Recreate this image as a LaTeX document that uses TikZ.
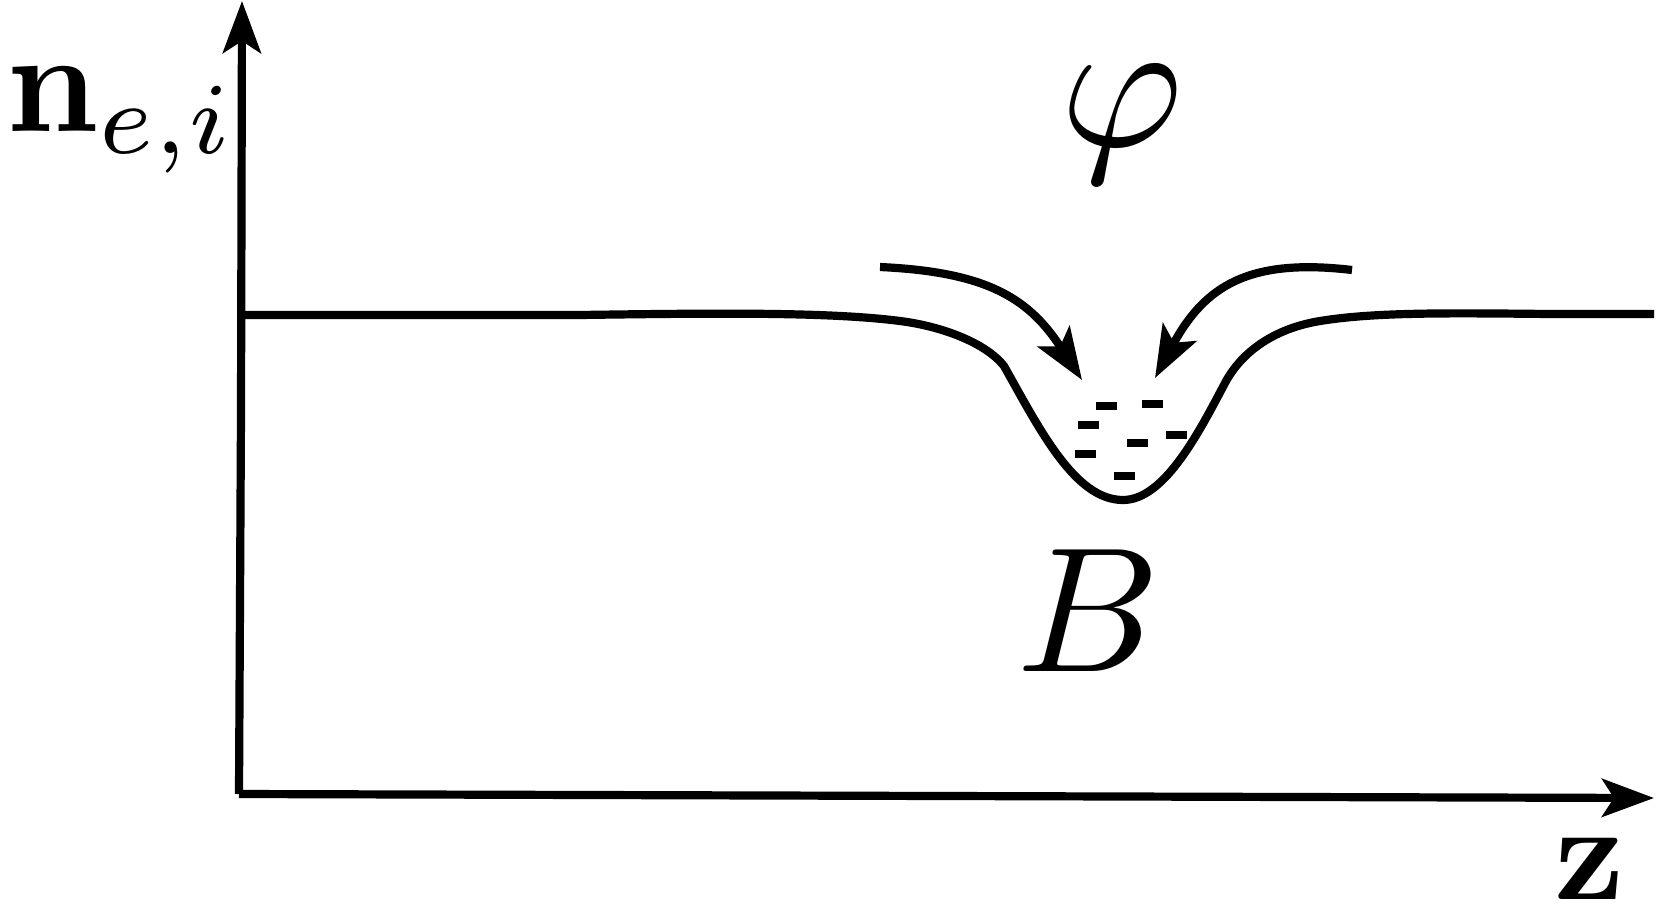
\documentclass[tikz,border=0pt]{standalone}
\usetikzlibrary{arrows.meta}
\begin{document}
\begin{tikzpicture}[x=0.5pt,y=-0.5pt,
  thick line/.style={line width=4.1pt, line cap=butt, line join=round},
  bigtip/.style={-{Stealth[length=26pt,width=19pt,inset=6pt]}},
  dashmark/.style={fill=black},
  lbl/.style={inner sep=0pt, outer sep=0pt}]
\useasboundingbox (0,0) rectangle (1657,904);
% axes
\coordinate (O) at (239,794);
\coordinate (Ykink) at (241,412);
\coordinate (Ytop) at (242,1);
\coordinate (Xend) at (1654,798);
\draw[thick line, bigtip] (O) -- (Ykink) -- (Ytop);
\draw[thick line, bigtip] (O) -- (Xend);
% density profile
\coordinate (P0) at (243,315);
\coordinate (P1) at (580,315);
\coordinate (Sh) at (900,321);
\coordinate (Kl) at (1004,366);
\coordinate (Bot) at (1123,500);
\coordinate (Kr) at (1225,383);
\coordinate (Sr) at (1320,321);
\coordinate (P2) at (1550,314);
\coordinate (PE) at (1654,314);
\draw[thick line] (P0) -- (P1)
  .. controls (720,313) and (830,312) .. (Sh)
  .. controls (940,326) and (985,342) .. (Kl)
  .. controls (1040,430) and (1075,500) .. (Bot)
  .. controls (1165,500) and (1200,430) .. (Kr)
  .. controls (1237,360) and (1265,330) .. (Sr)
  .. controls (1375,312) and (1450,313) .. (P2) -- (PE);
% incoming arrows
\coordinate (La) at (880,267);
\coordinate (Lb) at (1082,380);
\coordinate (Ra) at (1352,270);
\coordinate (Rb) at (1155,378);
\draw[thick line, bigtip] (La) .. controls (990,272) and (1030,300) .. (Lb);
\draw[thick line, bigtip] (Ra) .. controls (1250,258) and (1205,285) .. (Rb);
% charges
\foreach \cx/\cy in {1106/406,1152/404,1088/425,1137/443,1176/435,1085/454,1124/476}
  \fill[dashmark] (\cx-10.5,\cy-4) rectangle (\cx+10.5,\cy+4);
% labels
\node[lbl, anchor=base west, scale=7.25] (nlabel) at (6,132) {$\mathbf{n}_{e,i}$};
\node[lbl, scale=9.4] (philabel) at (1122,124) {$\varphi$};
\node[lbl, scale=8.9] (Blabel) at (1088,611) {$B$};
\node[lbl, scale=6.9] (zlabel) at (1590,869) {$\mathbf{z}$};
\end{tikzpicture}
\end{document}
